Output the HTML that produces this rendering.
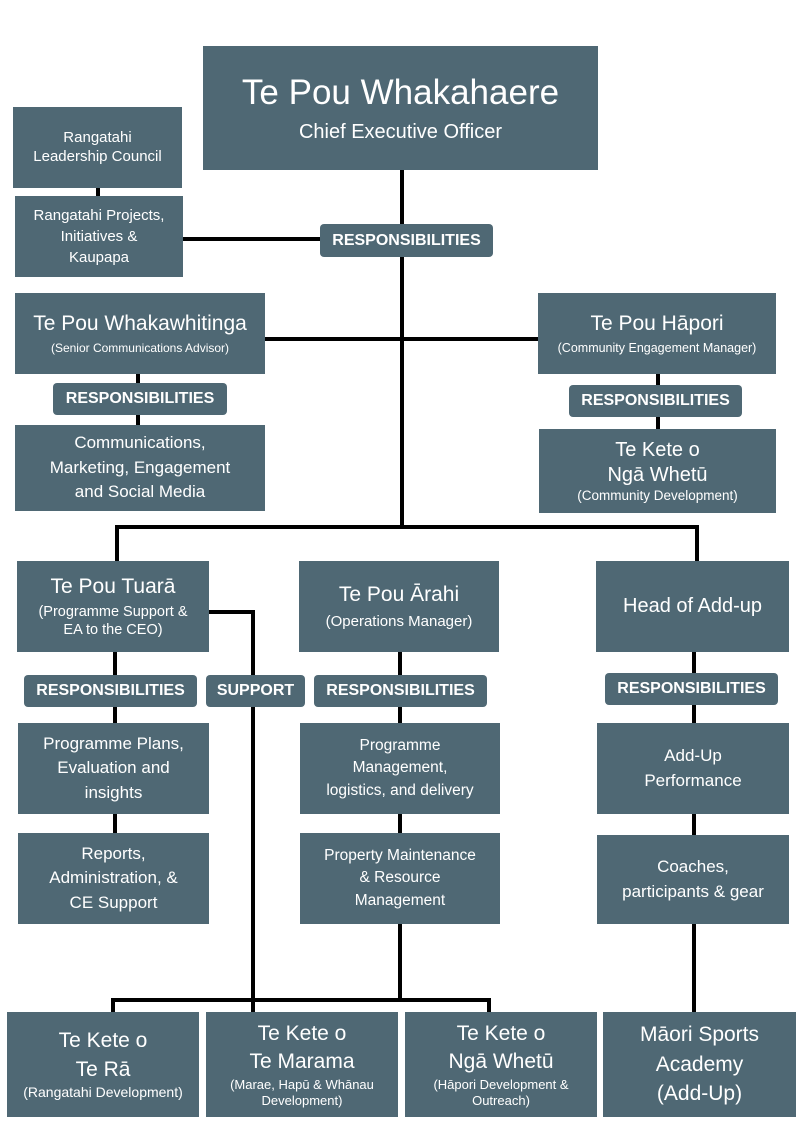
<!DOCTYPE html>
<html><head><meta charset="utf-8"><style>
body{margin:0;width:806px;height:1132px;background:#fff;position:relative;overflow:hidden;font-family:"Liberation Sans",sans-serif;}
.b{position:absolute;background:#4f6874;color:#fff;display:flex;flex-direction:column;align-items:center;justify-content:center;text-align:center;box-sizing:border-box;line-height:1.25;}
.p{position:absolute;background:#4f6874;color:#fff;font-weight:bold;font-size:16px;display:flex;align-items:center;justify-content:center;border-radius:4px;}
.l{position:absolute;background:#000;}
.t{font-size:21px}.s{font-size:14px}.m{font-size:17px}
</style></head><body>
<div class="l" style="left:400px;top:170px;width:4px;height:359px"></div>
<div class="l" style="left:183px;top:237px;width:140px;height:4px"></div>
<div class="l" style="left:96px;top:186px;width:4px;height:12px"></div>
<div class="l" style="left:265px;top:337px;width:275px;height:4px"></div>
<div class="l" style="left:136px;top:374px;width:4px;height:52px"></div>
<div class="l" style="left:656px;top:374px;width:4px;height:56px"></div>
<div class="l" style="left:115px;top:525px;width:584px;height:4px"></div>
<div class="l" style="left:115px;top:525px;width:4px;height:37px"></div>
<div class="l" style="left:695px;top:525px;width:4px;height:37px"></div>
<div class="l" style="left:113px;top:652px;width:4px;height:182px"></div>
<div class="l" style="left:209px;top:610px;width:46px;height:4px"></div>
<div class="l" style="left:251px;top:610px;width:4px;height:402px"></div>
<div class="l" style="left:398px;top:652px;width:4px;height:350px"></div>
<div class="l" style="left:692px;top:652px;width:4px;height:362px"></div>
<div class="l" style="left:111px;top:998px;width:380px;height:4px"></div>
<div class="l" style="left:111px;top:998px;width:4px;height:15px"></div>
<div class="l" style="left:487px;top:998px;width:4px;height:15px"></div>

<div class="b" style="left:203px;top:46px;width:395px;height:124px"><div style="font-size:35px">Te Pou Whakahaere</div><div style="font-size:20px;margin-top:6px">Chief Executive Officer</div></div>
<div class="b s" style="left:13px;top:107px;width:169px;height:81px;font-size:15px">Rangatahi<br>Leadership Council</div>
<div class="b" style="left:15px;top:196px;width:168px;height:81px;font-size:15px;line-height:1.4">Rangatahi Projects,<br>Initiatives &amp;<br>Kaupapa</div>
<div class="p" style="left:320px;top:224px;width:173px;height:33px">RESPONSIBILITIES</div>
<div class="b" style="left:15px;top:293px;width:250px;height:81px"><div class="t">Te Pou Whakawhitinga</div><div style="font-size:12px;margin-top:4px">(Senior Communications Advisor)</div></div>
<div class="b" style="left:538px;top:293px;width:238px;height:81px"><div class="t">Te Pou Hāpori</div><div style="font-size:12.5px;margin-top:4px">(Community Engagement Manager)</div></div>
<div class="p" style="left:53px;top:383px;width:174px;height:32px">RESPONSIBILITIES</div>
<div class="p" style="left:569px;top:385px;width:173px;height:32px">RESPONSIBILITIES</div>
<div class="b m" style="left:15px;top:425px;width:250px;height:86px;line-height:1.45">Communications,<br>Marketing, Engagement<br>and Social Media</div>
<div class="b" style="left:539px;top:429px;width:237px;height:84px"><div class="t" style="font-size:20px">Te Kete o<br>Ngā Whetū</div><div style="font-size:13.5px">(Community Development)</div></div>

<div class="b" style="left:17px;top:561px;width:192px;height:91px"><div class="t">Te Pou Tuarā</div><div style="font-size:14.5px;margin-top:3px">(Programme Support &amp;<br>EA to the CEO)</div></div>
<div class="b" style="left:299px;top:561px;width:200px;height:91px"><div class="t">Te Pou Ārahi</div><div style="font-size:15px;margin-top:5px">(Operations Manager)</div></div>
<div class="b t" style="left:596px;top:561px;width:193px;height:91px;font-size:20px">Head of Add-up</div>
<div class="p" style="left:24px;top:675px;width:173px;height:32px">RESPONSIBILITIES</div>
<div class="p" style="left:206px;top:675px;width:99px;height:32px">SUPPORT</div>
<div class="p" style="left:314px;top:675px;width:173px;height:32px">RESPONSIBILITIES</div>
<div class="p" style="left:605px;top:673px;width:173px;height:32px">RESPONSIBILITIES</div>
<div class="b m" style="left:18px;top:723px;width:191px;height:91px;line-height:1.45">Programme Plans,<br>Evaluation and<br>insights</div>
<div class="b m" style="left:18px;top:833px;width:191px;height:91px;line-height:1.45">Reports,<br>Administration, &amp;<br>CE Support</div>
<div class="b" style="left:300px;top:723px;width:200px;height:91px;font-size:15.5px;line-height:1.45">Programme<br>Management,<br>logistics, and delivery</div>
<div class="b" style="left:300px;top:833px;width:200px;height:91px;font-size:15.5px;line-height:1.45">Property Maintenance<br>&amp; Resource<br>Management</div>
<div class="b m" style="left:597px;top:723px;width:192px;height:91px;line-height:1.45">Add-Up<br>Performance</div>
<div class="b m" style="left:597px;top:835px;width:192px;height:89px;line-height:1.45">Coaches,<br>participants &amp; gear</div>

<div class="b" style="left:7px;top:1012px;width:192px;height:105px"><div class="t" style="line-height:1.35">Te Kete o<br>Te Rā</div><div style="font-size:14px">(Rangatahi Development)</div></div>
<div class="b" style="left:206px;top:1012px;width:192px;height:105px"><div class="t" style="line-height:1.35">Te Kete o<br>Te Marama</div><div style="font-size:13px">(Marae, Hapū &amp; Whānau<br>Development)</div></div>
<div class="b" style="left:405px;top:1012px;width:192px;height:105px"><div class="t" style="line-height:1.35">Te Kete o<br>Ngā Whetū</div><div style="font-size:13px">(Hāpori Development &amp;<br>Outreach)</div></div>
<div class="b" style="left:603px;top:1012px;width:193px;height:105px;font-size:21px;line-height:1.4">Māori Sports<br>Academy<br>(Add-Up)</div>
</body></html>
